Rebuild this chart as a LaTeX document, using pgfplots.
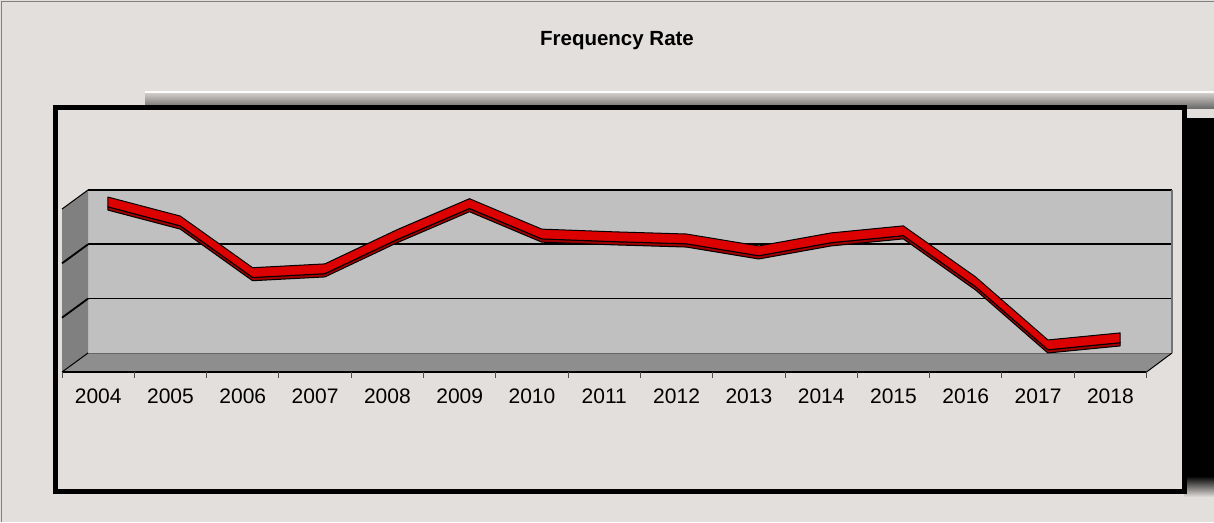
\documentclass[border=0pt]{standalone}
\usepackage{pgfplots}
\usepackage{pgfplotstable}
\pgfplotsset{compat=1.18}
\usepackage{fontspec}
\setmainfont{Liberation Sans}
\definecolor{bgc}{HTML}{E3DFDC}
\definecolor{wallc}{HTML}{C0C0C0}
\definecolor{sidec}{HTML}{808080}
\definecolor{floorc}{HTML}{8E8E8E}
\definecolor{ribred}{HTML}{DD0000}
\definecolor{ribdark}{HTML}{A00000}
\pgfplotstableread{
i v
0 2.74
1 2.39
2 1.44
3 1.51
4 2.14
5 2.71
6 2.15
7 2.10
8 2.06
9 1.84
10 2.08
11 2.21
12 1.27
13 0.11
14 0.24
}\freqdata
\begin{document}
\begin{tikzpicture}
\begin{scope}[x=1pt,y=1pt]
\useasboundingbox (0,0) rectangle (1214,522);
\fill[bgc] (0,0) rectangle (1214,522);
\draw[gray, line width=1pt] (1.5,0) -- (1.5,520.5) -- (1214,520.5);
\fill[white!92!bgc] (145,428.5) rectangle (1214,430.5);
\shade[top color=bgc!90!black, bottom color=black!60] (145,413) rectangle (1214,428.5);
\fill[black] (1184,45) rectangle (1214,404);
\shade[top color=black, bottom color=bgc] (1184,25) rectangle (1214,46);
\draw[line width=5pt, fill=bgc] (55.5,30.5) rectangle (1184.5,414.5);
\node[font=\bfseries\fontsize{20.5}{23}\selectfont] at (617,481) {Frequency Rate};
\end{scope}
\begin{axis}[
  at={(88pt,169pt)}, anchor=south west,
  scale only axis, width=1084pt, height=163pt,
  xmin=-0.2766, xmax=14.717, ymin=0, ymax=3,
  clip=false,
  axis background/.style={fill=wallc},
  axis line style={draw=none},
  major tick length=0pt,
  ytick={2,3}, yticklabels={},
  extra y ticks={1}, extra y tick labels={},
  extra y tick style={major grid style={black, line width=1.2pt}},
  ymajorgrids, major grid style={black, line width=2pt},
  xtick={0,...,14},
  xticklabels={2004,2005,2006,2007,2008,2009,2010,2011,2012,2013,2014,2015,2016,2017,2018},
  xticklabel style={anchor=center, yshift=-43pt, xshift=-9.8pt, font=\fontsize{21}{24}\selectfont},
]
\fill[sidec] (axis cs:-0.2766,0) -- (axis cs:-0.2766,3) -- (axis cs:-0.636,2.65) -- (axis cs:-0.636,-0.35) -- cycle;
\draw[black, line width=1.8pt] (axis cs:-0.2766,1) -- (axis cs:-0.636,0.65);
\draw[black, line width=1.8pt] (axis cs:-0.2766,2) -- (axis cs:-0.636,1.65);
\draw[black, line width=1pt] (axis cs:-0.2766,3) -- (axis cs:-0.636,2.65);
\fill[floorc] (axis cs:-0.2766,0) -- (axis cs:14.717,0) -- (axis cs:14.364,-0.35) -- (axis cs:-0.636,-0.35) -- cycle;
\draw[black!60, line width=1pt] (axis cs:-0.2766,0) -- (axis cs:14.717,0);
\draw[black, line width=1pt] (axis cs:-0.2766,0) -- (axis cs:-0.636,-0.35);
\draw[black, line width=1pt] (axis cs:14.717,0) -- (axis cs:14.364,-0.35);
\draw[black!55, line width=1.5pt] (axis cs:14.717,0) -- (axis cs:14.717,3);
\draw[black, line width=2.5pt] (axis cs:-0.636,-0.35) -- (axis cs:14.364,-0.35);
\pgfplotsinvokeforeach{0,...,15}{
  \draw[black!70, line width=1pt] (axis cs:-0.636+#1,-0.35) -- ++(0pt,-6pt);
}
\addplot[stack plots=y, draw=none, forget plot] table[x=i, y expr=\thisrow{v}-0.11] {\freqdata};
\addplot[stack plots=y, fill=ribdark, draw=black, line width=1pt, line join=round, forget plot] table[x=i, y expr=0.06] {\freqdata} \closedcycle;
\addplot[stack plots=y, fill=ribred, draw=black, line width=1pt, line join=round, forget plot] table[x=i, y expr=0.18] {\freqdata} \closedcycle;
\end{axis}
\end{tikzpicture}
\end{document}
